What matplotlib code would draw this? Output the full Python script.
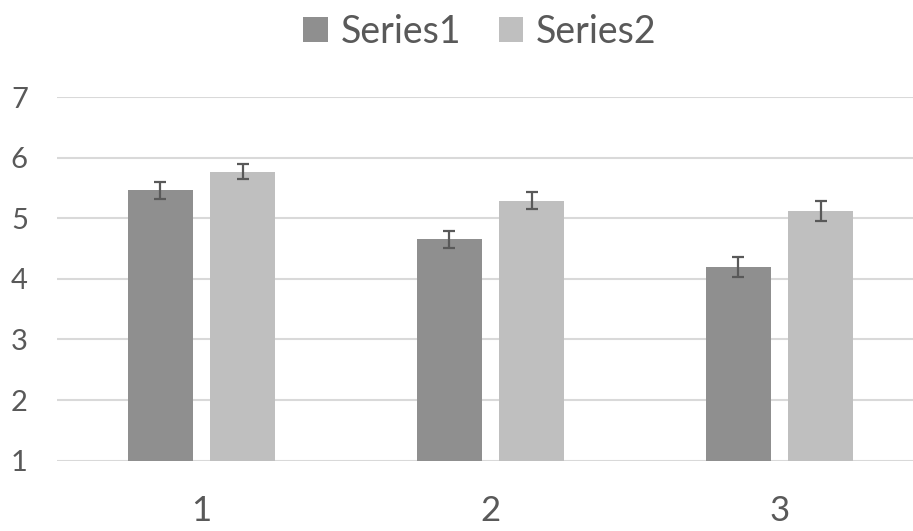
import matplotlib.pyplot as plt
import numpy as np

categories = ['1', '2', '3']
series1 = [5.46, 4.65, 4.20]
series2 = [5.77, 5.29, 5.12]
err1 = [0.14, 0.145, 0.165]
err2 = [0.13, 0.145, 0.16]
yticks = [1, 2, 3, 4, 5, 6, 7]

plt.rcParams['font.family'] = ['Lato', 'DejaVu Sans']
txt = '#595959'

fig = plt.figure(figsize=(9.13, 5.31), dpi=100)
ax = fig.add_axes([57.0 / 913, 70.3 / 531, 867.0 / 913, 363.7 / 531])

x = np.arange(1, len(categories) + 1)
w = 0.225
off = 0.143
ax.bar(x - off, np.array(series1) - 1, w, bottom=1, color='#8f8f8f', label='Series1', zorder=3)
ax.bar(x + off, np.array(series2) - 1, w, bottom=1, color='#bfbfbf', label='Series2', zorder=3)
ax.errorbar(x - off, series1, yerr=err1, fmt='none', ecolor='#595959', elinewidth=1.6, capsize=4.5, capthick=1.6, zorder=4)
ax.errorbar(x + off, series2, yerr=err2, fmt='none', ecolor='#595959', elinewidth=1.6, capsize=4.5, capthick=1.6, zorder=4)

ax.set_xlim(0.5, 3.5)
ax.set_ylim(1, 7)
ax.set_yticks(yticks)
ax.set_xticks(x)
ax.set_xticklabels(categories)
ax.yaxis.grid(True, color='#d9d9d9', linewidth=1.5, zorder=0)
ax.set_axisbelow(True)
for s in ax.spines.values():
    s.set_visible(False)
ax.tick_params(axis='y', length=0, pad=21, labelsize=21, labelcolor=txt)
ax.tick_params(axis='x', length=0, pad=25, labelsize=25, labelcolor=txt)

fig.legend(loc='center', bbox_to_anchor=(480 / 913, 1 - 32 / 531), ncol=2, frameon=False,
           fontsize=27, labelcolor=txt, handlelength=0.65, handleheight=0.65,
           handletextpad=0.35, columnspacing=1.0)

plt.savefig('out.png', dpi=100)
plt.close()
